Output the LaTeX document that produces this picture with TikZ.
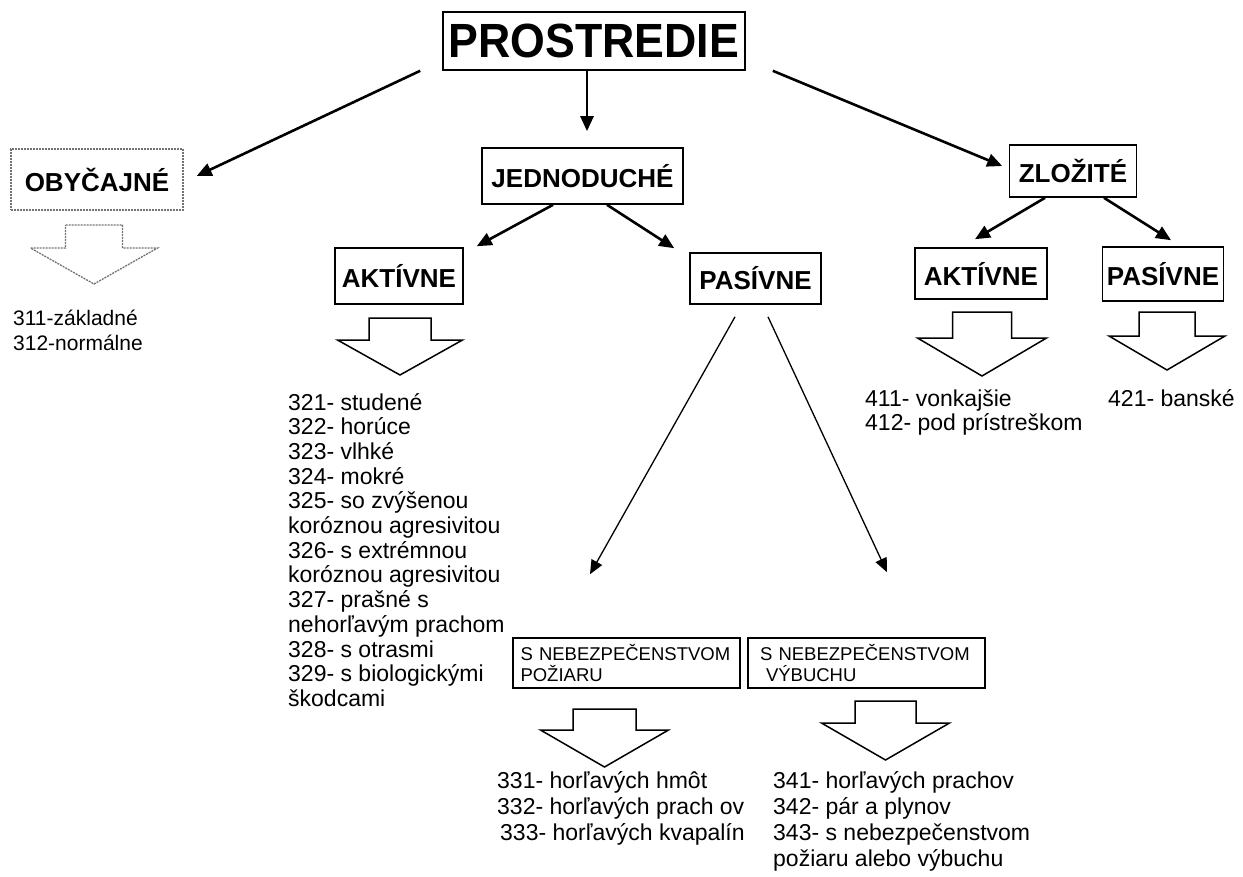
\documentclass[tikz,border=0pt]{standalone}
\usepackage{fontspec}
\setmainfont{Liberation Sans}
\usepackage{graphicx}
\usetikzlibrary{arrows.meta}
\newcommand{\mylines}[4]{\parbox[t]{#1pt}{\raggedright\hyphenpenalty=10000\exhyphenpenalty=10000\fontsize{#2}{#3}\selectfont #4}}
\newcommand{\hollowdown}[7]{%
  \draw[#1] ({#2-#6},#3) -- ({#2+#6},#3) -- ({#2+#6},#4) -- ({#2+#7},#4) -- (#2,#5) -- ({#2-#7},#4) -- ({#2-#6},#4) -- cycle;}
\begin{document}
\begin{tikzpicture}[x=1pt,y=-1pt,
  box/.style={draw=black, line width=1.6pt, inner sep=0pt, font=\fontsize{26}{28}\selectfont\bfseries},
  graybox/.style={draw=black!55, line width=1.4pt, dash pattern=on 2pt off 1pt, inner sep=0pt, font=\fontsize{26}{28}\selectfont\bfseries},
  conn/.style={line width=2.6pt, -{Triangle[length=15pt,width=13pt]}},
  thinconn/.style={line width=1.3pt, -{Triangle[length=14pt,width=12pt]}},
  blk/.style={draw=black, line width=1.5pt, line join=miter, fill=white},
  grayblk/.style={draw=black!55, line width=1.3pt, dash pattern=on 2pt off 1pt, fill=white},
  lst/.style={anchor=base west, inner sep=0pt},
  smallbox/.style={draw=black, line width=1.6pt, align=left, inner ysep=0pt, font=\fontsize{18.5}{21}\selectfont}
]
\useasboundingbox (0,0) rectangle (1243,876);
\fill[white] (0,0) rectangle (1243,876);

% boxes
\node[box, minimum width=302pt, minimum height=58pt] (title) at (594,41)
  {\fontsize{48}{50}\selectfont\scalebox{0.93}[1]{PROSTREDIE}};
\node[graybox, minimum width=172pt, minimum height=61pt] (obyc) at (97,179.5) {OBYČAJNÉ};
\node[box, minimum width=201pt, minimum height=56pt] (jedn) at (582.5,176) {JEDNODUCHÉ};
\node[box, minimum width=127pt, minimum height=52pt] (zloz) at (1073,171) {ZLOŽITÉ};
\node[box, minimum width=128pt, minimum height=56pt] (akt1) at (399,276) {AKTÍVNE};
\node[box, minimum width=131pt, minimum height=51pt] (pas1) at (755.5,278.5) {PASÍVNE};
\node[box, minimum width=132pt, minimum height=51pt] (akt2) at (981,273.5) {AKTÍVNE};
\node[box, minimum width=121pt, minimum height=54pt] (pas2) at (1163,274) {PASÍVNE};
\node[smallbox, text width=212pt, inner xsep=7.5pt, minimum height=50pt] (poz) at (626.5,663)
  {S NEBEZPEČENSTVOM\\POŽIARU};
\node[smallbox, text width=213pt, inner xsep=12pt, minimum height=50pt] (vyb) at (866.5,663)
  {S NEBEZPEČENSTVOM\\\hspace*{6pt}VÝBUCHU};

% connectors
\draw[conn] ([xshift=-22pt]title.south west) -- ([xshift=13pt,yshift=3.5pt]obyc.east);
\draw[conn] ([xshift=-7pt]title.south) -- ([xshift=4.5pt,yshift=16pt]jedn.north);
\draw[conn] ([xshift=27pt]title.south east) -- ([xshift=-6.5pt,yshift=5pt]zloz.west);
\draw[conn] ([xshift=-29.5pt]jedn.south) -- ([xshift=13pt,yshift=1pt]akt1.north east);
\draw[conn] ([xshift=24.5pt]jedn.south) -- ([xshift=-15pt,yshift=4pt]pas1.north west);
\draw[conn] ([xshift=-28pt]zloz.south) -- ([xshift=-6pt,yshift=8pt]akt2.north);
\draw[conn] ([xshift=31pt]zloz.south) -- ([xshift=8pt,yshift=6pt]pas2.north);
\draw[thinconn] ([xshift=-20.5pt,yshift=-12pt]pas1.south) -- ([xshift=-36.5pt,yshift=63pt]poz.north);
\draw[thinconn] ([xshift=12.5pt,yshift=-12pt]pas1.south) -- ([xshift=20.5pt,yshift=65pt]vyb.north);

% hollow block arrows
\hollowdown{grayblk}{94}{225}{248}{284}{28.5}{63.5}
\hollowdown{blk}{400}{318}{340}{375}{31}{62.5}
\hollowdown{blk}{982}{312}{338}{376}{29.5}{64.5}
\hollowdown{blk}{1167}{312}{336}{370}{28}{58}
\hollowdown{blk}{604.5}{709}{730}{767}{31.5}{64}
\hollowdown{blk}{885.5}{701}{723}{760}{30.5}{64}

% lists
\node[lst] (l311) at (13,325.5) {\mylines{200}{21}{25}{311-základné\\312-normálne}};
\node[lst] (l321) at (288,410) {\mylines{240}{23}{24.7}{321- studené\\322- horúce\\323- vlhké\\324- mokré\\325- so zvýšenou\\koróznou agresivitou\\326- s extrémnou\\koróznou agresivitou\\327- prašné s\\nehorľavým prachom\\328- s otrasmi\\329- s biologickými\\škodcami}};
\node[lst] (l331) at (497,788) {\mylines{265}{23}{26}{331- horľavých hmôt\\332- horľavých prach ov\\\hspace*{3pt}333- horľavých kvapalín}};
\node[lst] (l341) at (773,788) {\mylines{300}{23}{26}{341- horľavých prachov\\342- pár a plynov\\343- s nebezpečenstvom\\požiaru alebo výbuchu}};
\node[lst] (l411) at (865,406) {\mylines{240}{23}{24}{411- vonkajšie\\412- pod prístreškom}};
\node[lst] (l421) at (1108,406) {\mylines{130}{23}{24}{421- banské}};
\end{tikzpicture}
\end{document}
